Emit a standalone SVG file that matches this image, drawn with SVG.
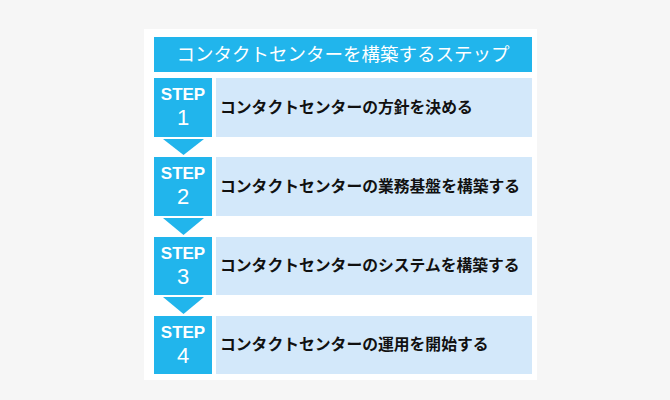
<svg xmlns="http://www.w3.org/2000/svg" width="670" height="400" viewBox="0 0 670 400">
<style>
.blue{fill:#21b5ec}
.light{fill:#d3e8fa}
.title{font-family:"Noto Sans CJK JP",sans-serif;font-size:18.5px;fill:#ffffff;text-anchor:middle}
.lbl{font-family:"Liberation Sans",Arial,sans-serif;font-weight:bold;font-size:17px;fill:#ffffff;text-anchor:middle}
.num{font-family:"Liberation Sans",Arial,sans-serif;font-size:22px;fill:#ffffff;text-anchor:middle}
.txt{font-family:"Noto Sans CJK JP",sans-serif;font-weight:bold;font-size:15.8px;fill:#111111}
</style>
<rect x="0" y="0" width="670" height="400" fill="#f6f6f6"/>
<rect x="144" y="29" width="393" height="351" fill="#ffffff"/>
<g id="title">
<rect class="blue" x="154" y="37" width="378" height="35"/>
<text class="title" x="343" y="61">コンタクトセンターを構築するステップ</text>
</g>
<g id="connectors">
<polygon class="blue" points="163,139 204,139 183.5,155"/>
<polygon class="blue" points="163,218 204,218 183.5,235"/>
<polygon class="blue" points="163,297 204,297 183.5,314"/>
</g>
<g id="step1">
<rect class="blue" x="154" y="78" width="58" height="59"/>
<rect class="light" x="216" y="78" width="316" height="59"/>
<text class="lbl" x="183" y="100">STEP</text>
<text class="num" x="183" y="125">1</text>
<text class="txt" x="220" y="113">コンタクトセンターの方針を決める</text>
</g>
<g id="step2">
<rect class="blue" x="154" y="157" width="58" height="59"/>
<rect class="light" x="216" y="157" width="316" height="59"/>
<text class="lbl" x="183" y="179">STEP</text>
<text class="num" x="183" y="204">2</text>
<text class="txt" x="220" y="192">コンタクトセンターの業務基盤を構築する</text>
</g>
<g id="step3">
<rect class="blue" x="154" y="237" width="58" height="58"/>
<rect class="light" x="216" y="237" width="316" height="58"/>
<text class="lbl" x="183" y="259">STEP</text>
<text class="num" x="183" y="284">3</text>
<text class="txt" x="220" y="271">コンタクトセンターのシステムを構築する</text>
</g>
<g id="step4">
<rect class="blue" x="154" y="316" width="58" height="58"/>
<rect class="light" x="216" y="316" width="316" height="58"/>
<text class="lbl" x="183" y="338">STEP</text>
<text class="num" x="183" y="363">4</text>
<text class="txt" x="220" y="350">コンタクトセンターの運用を開始する</text>
</g>
</svg>
